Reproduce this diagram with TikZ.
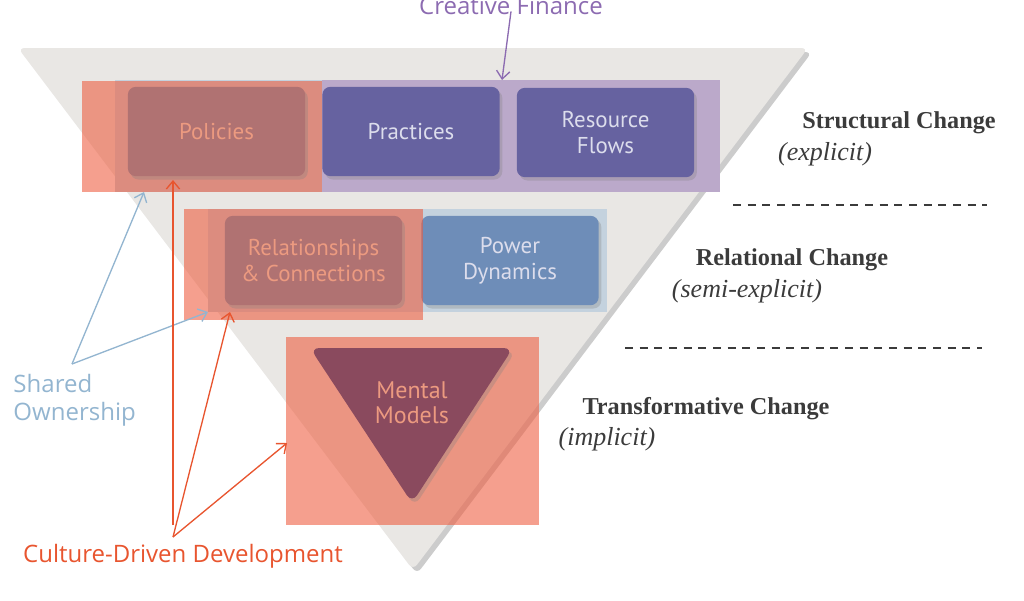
\documentclass[tikz,border=0pt]{standalone}
\usepackage{fontspec}
\setmainfont{Liberation Serif}
\newfontfamily\tilefont{PT Sans}
\newfontfamily\notefont{Open Sans}
\usetikzlibrary{arrows.meta,shadows}
\tikzset{every picture/.style={line width=0.75pt}}
\definecolor{paneGray}{HTML}{E9E7E4}
\definecolor{bandPurple}{HTML}{BBA9CA}
\definecolor{bandBlue}{HTML}{C4D2DE}
\definecolor{tilePurple}{HTML}{6662A0}
\definecolor{tileBlue}{HTML}{6E8DB8}
\definecolor{tileRed}{HTML}{B07272}
\definecolor{mentalRed}{HTML}{8A4A5E}
\definecolor{overlayRed}{HTML}{EE5A3C}
\definecolor{salmonText}{HTML}{EC9A80}
\definecolor{paleText}{HTML}{DCDDEC}
\definecolor{labelGray}{HTML}{3B3B3B}
\definecolor{financePurple}{HTML}{8C6BB1}
\definecolor{sharedBlue}{HTML}{93B5D0}
\definecolor{cultureOrange}{HTML}{E8552F}

\begin{document}
\begin{tikzpicture}[x=0.75pt,y=0.75pt,yscale=-1,xscale=1,
  tile/.style={rounded corners=6pt, minimum width=133pt, minimum height=67pt, align=center, inner sep=0pt, font=\tilefont\fontsize{17.2}{19.5}\selectfont, drop shadow={opacity=0.3,shadow xshift=2pt,shadow yshift=-2.5pt}},
  note/.style={font=\notefont\fontsize{18}{21}\selectfont, inner sep=0pt},
  level/.style={font=\bfseries\fontsize{18.2}{20}\selectfont, text=labelGray, inner sep=0pt},
  kind/.style={font=\itshape\fontsize{19.5}{21}\selectfont, text=labelGray, inner sep=0pt},
  pointer/.style={-{Straight Barb[length=6pt,width=10pt]}, line width=1pt}]
\useasboundingbox (0,0) rectangle (1024,600);
\clip (0,0) rectangle (1024,600);

%Shape: big inverted triangle
\fill [paneGray, rounded corners=5pt, drop shadow={opacity=0.4,shadow xshift=3pt,shadow yshift=-3pt}] (18,48) -- (808,48) -- (413,570) -- cycle ;

%Shape: bands behind the rows
\fill [bandBlue] (115,80) rectangle (322,192) ;
\fill [bandPurple] (322,80) rectangle (720,192) ;
\fill [bandBlue] (208,209) rectangle (607,312) ;

% Tiles
\node (practices) at (411,131.5) [tile, fill=tilePurple, text=paleText] {Practices};
\node (flows) at (605.5,132.5) [tile, fill=tilePurple, text=paleText] {Resource\\Flows};
\node (power) at (510,260.5) [tile, fill=tileBlue, text=paleText] {Power\\Dynamics};

%Shape: orange overlays
\fill [overlayRed, opacity=0.58] (82,81) rectangle (322,192) ;
\fill [overlayRed, opacity=0.58] (184,209) rectangle (423,320) ;
\fill [overlayRed, opacity=0.58] (286,337) rectangle (539,525) ;

\node (policies) at (216.5,131.5) [tile, fill=tileRed, text=salmonText] {Policies};
\node (relations) at (313.5,260.5) [tile, fill=tileRed, text=salmonText] {Relationships\\\& Connections};

%Shape: small triangle
\fill [mentalRed, rounded corners=7pt, drop shadow={opacity=0.3,shadow xshift=2pt,shadow yshift=-2.5pt}] (310,348) -- (513,348) -- (412,503) -- cycle ;
\node (mental) at (412,403) [align=center, text=salmonText, font=\tilefont\fontsize{18}{18.75}\selectfont] {Mental\\Models};

% Text Node
\node (structural) at (899,123) [level] {Structural Change};
\node (explicit) at (825,154) [kind] {(explicit)};
\node (relational) at (792,260) [level] {Relational Change};
\node (semi) at (747,291) [kind] {(semi-explicit)};
\node (transform) at (706,409) [level] {Transformative Change};
\node (implicit) at (607,439) [kind] {(implicit)};

%Straight Lines: dashed rules
\draw [labelGray, line width=1.2pt, dash pattern=on 6pt off 5pt] (733,205) -- (987,205) ;
\draw [labelGray, line width=1.2pt, dash pattern=on 6pt off 5pt] (625,348) -- (982,348) ;

% Text Node
\node (finance) at (511,6) [note, text=financePurple] {Creative Finance};
\node (shared) at (13,400) [note, text=sharedBlue, anchor=west, align=left] {Shared\\Ownership};
\node (culture) at (183,556) [note, text=cultureOrange] {Culture-Driven Development};

\coordinate (financeTip) at (502,80);
\coordinate (sharedApex) at (72,364);
\coordinate (sharedTop) at (144,192);
\coordinate (sharedMid) at (208,312);
\coordinate (cultureFoot) at (173,525);
\coordinate (cultureApex) at (173,537);
\coordinate (cultureTop) at (173,180);
\coordinate (cultureMid) at (230,312);
\coordinate (cultureLow) at (287,443);

%Straight Lines: pointers
\draw [pointer, financePurple] (finance.south) ++(0,-4) -- (financeTip) ;
\draw [pointer, sharedBlue] (sharedApex) -- (sharedTop) ;
\draw [pointer, sharedBlue] (sharedApex) -- (sharedMid) ;
\draw [pointer, cultureOrange] (cultureFoot) -- (cultureTop) ;
\draw [pointer, cultureOrange] (cultureApex) -- (cultureMid) ;
\draw [pointer, cultureOrange] (cultureApex) -- (cultureLow) ;

\end{tikzpicture}
\end{document}
